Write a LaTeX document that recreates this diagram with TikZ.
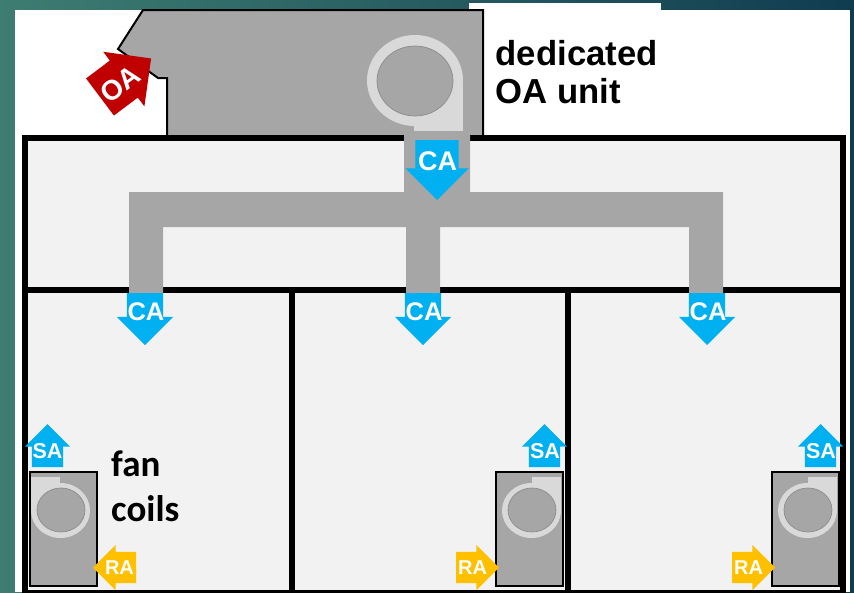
\documentclass[tikz,border=0pt]{standalone}
\usepackage{fontspec}
\setmainfont{Liberation Sans}
\newfontfamily\coilfont{Carlito}
\usetikzlibrary{shapes.arrows}
\definecolor{cablue}{HTML}{00B0F0}
\definecolor{oared}{HTML}{C00000}
\definecolor{ragold}{HTML}{FFC000}
\definecolor{ductgray}{HTML}{A6A6A6}
\definecolor{scrollgray}{HTML}{D9D9D9}
\definecolor{roomgray}{HTML}{F2F2F2}
\definecolor{slideleft}{RGB}{62,125,114}
\definecolor{slideright}{RGB}{16,60,80}
\tikzset{
  wall/.style={draw=black, line width=6pt},
  unitbox/.style={fill=ductgray, draw=black, line width=2pt},
  scroll/.style={fill=scrollgray, draw=none},
  wheel/.style={fill=ductgray, draw=black!45, line width=0.7pt},
  airarrow/.style={single arrow, single arrow tip angle=90, inner sep=0pt, outer sep=0pt, draw=none, anchor=tail},
  mainarrow/.style={airarrow, fill=cablue, shape border rotate=270, inner xsep=21.5pt, single arrow head extend=10pt, minimum height=60pt},
  droparrow/.style={airarrow, fill=cablue, shape border rotate=270, inner xsep=18pt, single arrow head extend=10pt, minimum height=52pt},
  supplyarrow/.style={airarrow, fill=cablue, shape border rotate=90, inner xsep=15.5pt, single arrow head extend=7pt, minimum height=43pt},
  returnarrow/.style={airarrow, fill=ragold, inner ysep=15.5pt, single arrow head extend=7pt, minimum height=43pt},
  oaarrow/.style={airarrow, fill=oared, rotate=37, inner ysep=23pt, single arrow head extend=11pt, minimum height=64pt},
  airlabel/.style={text=white, inner sep=0pt, font=\bfseries\fontsize{#1}{#1}\selectfont},
  bigtext/.style={text=black, inner sep=0pt, anchor=north west, align=left}
}
\begin{document}
\begin{tikzpicture}[x=1pt, y=-1pt]
  % slide background
  \clip (0,0) rectangle (854,592);
  \shade[left color=slideleft, right color=slideright] (0,0) rectangle (854,592);
  \fill[white] (15,10) rectangle (850,592);
  \fill[white] (469,3) rectangle (661,10);
  % rooms
  \fill[roomgray] (25,138) rectangle (843,593);
  % dedicated OA unit
  \path[unitbox] (143,10) -- (483,10) -- (483,138) -- (167,138) -- (167,78) -- (158,78) -- (118,49) -- cycle;
  \fill[scroll] (414,80) rectangle (463,131);
  \fill[scroll] (415,80.5) ellipse [x radius=48, y radius=45.5];
  \path[wheel] (415,81) ellipse [x radius=38, y radius=35];
  % walls
  \draw[wall] (25,138) rectangle (843,593);
  \draw[wall] (25,290) -- (843,290);
  \draw[wall] (292,290) -- (292,593);
  \draw[wall] (568,290) -- (568,593);
  % ducts
  \fill[ductgray] (404,135) -- (470,135) -- (470,192) -- (723,192) -- (723,293) -- (689,293) -- (689,227) -- (440,227) -- (440,293) -- (406,293) -- (406,227) -- (163,227) -- (163,293) -- (129,293) -- (129,192) -- (404,192) -- cycle;
  % fan coils
  \path[unitbox] (30,472) rectangle (97,586);
  \fill[scroll] (31,477) rectangle (60,510);
  \fill[scroll] (60.5,510.5) ellipse [x radius=29.5, y radius=27.5];
  \path[wheel] (61,510) ellipse [x radius=24, y radius=22];
  \path[unitbox] (496,472) rectangle (563,586);
  \fill[scroll] (532,477) rectangle (561,510);
  \fill[scroll] (531.5,510.5) ellipse [x radius=29.5, y radius=27.5];
  \path[wheel] (532,510) ellipse [x radius=24, y radius=22];
  \path[unitbox] (772,472) rectangle (839,586);
  \fill[scroll] (808,477) rectangle (837,510);
  \fill[scroll] (807.5,510.5) ellipse [x radius=29.5, y radius=27.5];
  \path[wheel] (808,510) ellipse [x radius=24, y radius=22];
  % air arrows
  \node[oaarrow] (oaIn) at (100,97) {};
  \node[mainarrow] (caMain) at (437,140) {};
  \node[droparrow] (caLeft) at (145,293) {};
  \node[droparrow] (caMid) at (423,293) {};
  \node[droparrow] (caRight) at (707,293) {};
  \node[supplyarrow] (saLeft) at (47.5,467) {};
  \node[supplyarrow] (saMid) at (544.5,467) {};
  \node[supplyarrow] (saRight) at (820.5,467) {};
  \node[returnarrow, shape border rotate=180] (raLeft) at (136,567.5) {};
  \node[returnarrow] (raMid) at (456,567.5) {};
  \node[returnarrow] (raRight) at (732,567.5) {};
  % arrow labels
  \node[airlabel=28, rotate=37] (oaText) at (120,84) {OA};
  \node[airlabel=27] (caMainText) at (437.5,161) {CA};
  \node[airlabel=25.5] (caLeftText) at (146,312) {CA};
  \node[airlabel=25.5] (caMidText) at (424,312) {CA};
  \node[airlabel=25.5] (caRightText) at (708,312) {CA};
  \node[airlabel=21.5] (saLeftText) at (47.5,451) {SA};
  \node[airlabel=21.5] (saMidText) at (545,451) {SA};
  \node[airlabel=21.5] (saRightText) at (821,451) {SA};
  \node[airlabel=20] (raLeftText) at (119.5,567.5) {RA};
  \node[airlabel=20] (raMidText) at (472.5,567.5) {RA};
  \node[airlabel=20] (raRightText) at (748.5,567.5) {RA};
  % captions
  \node[bigtext, font=\bfseries\fontsize{34.7}{38}\selectfont] (unitText) at (495.5,40.5) {dedicated\\OA unit};
  \node[bigtext, font=\coilfont\bfseries\fontsize{37}{45}\selectfont] (coilText) at (111,451) {fan\\coils};
\end{tikzpicture}
\end{document}
